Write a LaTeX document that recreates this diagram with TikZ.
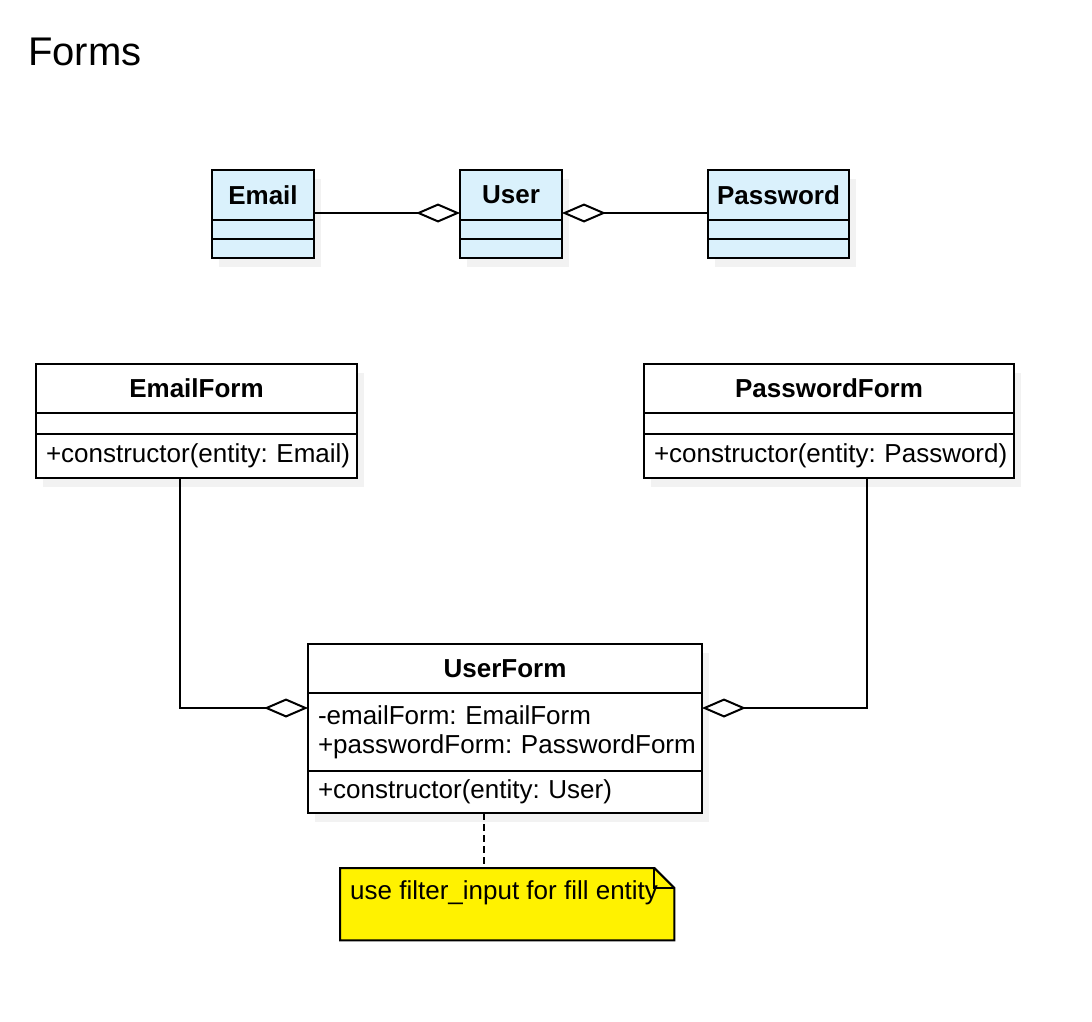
\documentclass[tikz,border=0pt]{standalone}
\usepackage{fontspec}
\setmainfont{Liberation Sans}
\usetikzlibrary{positioning,arrows.meta,shadows}
\definecolor{entityblue}{RGB}{218,241,252}
\newcommand{\umlfont}{\fontsize{26}{29}\selectfont}

\tikzset{
  compart/.style={draw, line width=2pt, outer sep=0pt, inner sep=0pt, font=\umlfont,
    drop shadow={shadow xshift=7pt, shadow yshift=-9pt, fill=black!5, opacity=1}},
  headpart/.style={compart, font=\umlfont\bfseries},
  listpart/.style={compart, align=left, text width=#1, inner xsep=10pt,
    execute at begin node={\hyphenpenalty=10000\exhyphenpenalty=10000\relax}},
  agg/.style={line width=2pt, -{Diamond[open, length=44pt, width=19pt]}}
}

\begin{document}
\begin{tikzpicture}[x=1pt, y=-1pt]
				\fill[white] (0,0) rectangle (1092,1022);
				\useasboundingbox (0,0) rectangle (1092,1022);
				
				\node[anchor=west, inner sep=0pt, font=\fontsize{40}{44}\selectfont] (title) at (28,52) {Forms};
				
				\foreach \name/\label/\x/\w in {email/Email/212/102, user/User/460/102, password/Password/708/141} {
					\node[headpart, fill=entityblue, anchor=north west, minimum width=\w pt, minimum height=50pt] (\name) at (\x,170) {\label};
					\node[compart, fill=entityblue, minimum width=\w pt, minimum height=19pt, below=0pt of \name] (\name-attr) {};
					\node[compart, fill=entityblue, minimum width=\w pt, minimum height=19pt, below=0pt of \name-attr] (\name-meth) {};
				}
				
				\foreach \name/\label/\x/\w/\tw/\arg in {emailform/EmailForm/36/321/301pt/Email, passwordform/PasswordForm/644/370/350pt/Password} {
					\node[headpart, fill=white, anchor=north west, minimum width=\w pt, minimum height=49pt] (\name) at (\x,364) {\label};
					\node[compart, fill=white, minimum width=\w pt, minimum height=21pt, below=0pt of \name] (\name-attr) {};
					\node[listpart=\tw, fill=white, minimum height=44pt, below=0pt of \name-attr] (\name-meth) {+constructor(entity:~\arg)};
				}
				
				\node[headpart, fill=white, anchor=north west, minimum width=394pt, minimum height=49pt] (userform) at (308,644) {UserForm};
				\node[listpart=374pt, fill=white, minimum height=78pt, below=0pt of userform] (userform-attr) {-emailForm:~EmailForm\\+passwordForm:~PasswordForm};
				\node[listpart=374pt, fill=white, minimum height=42pt, below=0pt of userform-attr] (userform-meth) {+constructor(entity:~User)};
				
				\draw[agg] ([yshift=7pt]email.south east) -- ([yshift=7pt]user.south west);
				\draw[agg] ([yshift=7pt]password.south west) -- ([yshift=7pt]user.south east);
				\draw[agg] ([xshift=-16.5pt]emailform-meth.south) |- ([yshift=-15pt]userform.south west);
				\draw[agg] ([xshift=38pt]passwordform-meth.south) |- ([yshift=-15pt]userform.south east);
				
				\node[anchor=north west, inner sep=0pt, minimum width=334pt, minimum height=72pt] (note) at (340,868) {};
				\draw[line width=2pt, dash pattern=on 7pt off 4pt] ([xshift=-21pt]userform-meth.south) coordinate (tail) -- (tail |- note.north);
				\filldraw[fill=yellow, line width=2pt] (note.north west) -- ([xshift=-20pt]note.north east) -- ([yshift=-20pt]note.north east) -- (note.south east) -- (note.south west) -- cycle;
				\draw[line width=2pt] ([xshift=-20pt]note.north east) |- ([yshift=-20pt]note.north east);
				\node[anchor=west, inner sep=0pt, font=\umlfont] (notetext) at ([xshift=10pt, yshift=-25pt]note.north west) {use filter\_input for fill entity};
			\end{tikzpicture}
\end{document}
